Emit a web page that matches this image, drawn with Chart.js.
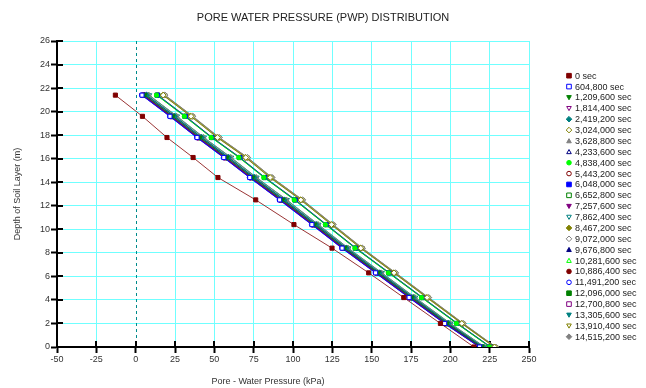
<!DOCTYPE html>
<html>
<head>
<meta charset="utf-8">
<script src="https://cdn.jsdelivr.net/npm/chart.js@4.4.0/dist/chart.umd.min.js"></script>
<style>
html, body { margin: 0; padding: 0; background: #fff; }
#wrap { width: 646px; height: 388px; }
</style>
</head>
<body>
<div id="wrap"><canvas id="pwpChart" width="646" height="388"></canvas></div>
<script>
// depth of each node (m) and the pore water pressure (kPa) per time step
var depth = [0, 2.0, 4.2, 6.3, 8.4, 10.4, 12.5, 14.4, 16.1, 17.8, 19.6, 21.4];

var timeLabels = ["0 sec", "604,800 sec", "1,209,600 sec", "1,814,400 sec", "2,419,200 sec",
  "3,024,000 sec", "3,628,800 sec", "4,233,600 sec", "4,838,400 sec", "5,443,200 sec",
  "6,048,000 sec", "6,652,800 sec", "7,257,600 sec", "7,862,400 sec", "8,467,200 sec",
  "9,072,000 sec", "9,676,800 sec", "10,281,600 sec", "10,886,400 sec", "11,491,200 sec",
  "12,096,000 sec", "12,700,800 sec", "13,305,600 sec", "13,910,400 sec", "14,515,200 sec"];

var pwp0  = [215.0, 193.7, 170.4, 148.1, 124.8, 100.6, 76.3, 52.3, 36.5, 19.9, 4.3, -12.9];
var pwp1  = [218.6, 196.4, 173.8, 152.5, 131.2, 112.0, 91.5, 72.5, 56.0, 39.0, 21.8, 4.0];
var pwp2  = [219.8, 197.8, 175.3, 154.0, 132.7, 113.6, 93.2, 74.2, 57.8, 40.7, 23.5, 5.7];
var pwp3  = [219.2, 197.1, 174.5, 153.3, 132.0, 112.8, 92.4, 73.3, 56.9, 39.8, 22.7, 4.9];
var pwp4  = [220.6, 198.7, 176.3, 155.0, 133.8, 114.7, 94.4, 75.3, 59.0, 41.8, 24.7, 6.9];
var pwp5  = [228.1, 207.3, 185.2, 164.2, 143.1, 124.5, 105.0, 85.5, 70.0, 52.0, 35.2, 17.5];
var pwp6  = [221.7, 199.9, 177.5, 156.3, 135.0, 116.0, 95.9, 76.7, 60.5, 43.2, 26.1, 8.4];
var pwp7  = [220.8, 198.9, 176.5, 155.2, 134.0, 114.9, 94.6, 75.5, 59.2, 42.0, 24.9, 7.1];
var pwp8  = [225.1, 203.9, 181.7, 160.6, 139.4, 120.6, 100.8, 81.5, 65.6, 48.0, 31.0, 13.3];
var pwp9  = [219.0, 196.9, 174.3, 153.1, 131.8, 112.6, 92.2, 73.1, 56.7, 39.6, 22.5, 4.7];
var pwp10 = [225.5, 204.4, 182.2, 161.1, 139.9, 121.1, 101.4, 82.0, 66.2, 48.5, 31.6, 13.9];
var pwp11 = [225.7, 204.6, 182.4, 161.3, 140.1, 121.3, 101.6, 82.2, 66.4, 48.7, 31.8, 14.1];
var pwp12 = [218.8, 196.6, 174.0, 152.7, 131.4, 112.2, 91.7, 72.7, 56.2, 39.2, 22.0, 4.2];
var pwp13 = [221.9, 200.1, 177.7, 156.5, 135.2, 116.2, 96.1, 76.9, 60.7, 43.4, 26.3, 8.6];
var pwp14 = [227.9, 207.1, 185.0, 164.0, 142.9, 124.3, 104.8, 85.3, 69.8, 51.8, 35.0, 17.3];
var pwp15 = [228.8, 208.1, 186.1, 165.1, 144.0, 125.4, 106.0, 86.5, 71.0, 53.0, 36.2, 18.5];
var pwp16 = [220.0, 198.0, 175.5, 154.2, 132.9, 113.8, 93.4, 74.4, 58.0, 40.9, 23.7, 5.9];
var pwp17 = [221.5, 199.7, 177.3, 156.1, 134.8, 115.8, 95.7, 76.5, 60.3, 43.0, 25.9, 8.2];
var pwp18 = [219.4, 197.3, 174.7, 153.5, 132.2, 113.0, 92.6, 73.5, 57.1, 40.0, 22.9, 5.1];
var pwp19 = [218.4, 196.2, 173.6, 152.3, 131.0, 111.8, 91.3, 72.3, 55.8, 38.8, 21.6, 3.8];
var pwp20 = [225.3, 204.1, 181.9, 160.8, 139.6, 120.8, 101.0, 81.7, 65.8, 48.2, 31.2, 13.5];
var pwp21 = [219.1, 197.0, 174.4, 153.2, 131.9, 112.7, 92.3, 73.2, 56.8, 39.7, 22.6, 4.8];
var pwp22 = [220.4, 198.5, 176.1, 154.8, 133.6, 114.5, 94.2, 75.1, 58.8, 41.6, 24.5, 6.7];
var pwp23 = [228.6, 207.9, 185.9, 164.9, 143.8, 125.2, 105.8, 86.3, 70.8, 52.8, 36.0, 18.3];
var pwp24 = [229.0, 208.3, 186.3, 165.3, 144.2, 125.6, 106.2, 86.7, 71.2, 53.2, 36.4, 18.7];

var pwpSeries = [pwp0, pwp1, pwp2, pwp3, pwp4, pwp5, pwp6, pwp7, pwp8, pwp9, pwp10, pwp11, pwp12,
  pwp13, pwp14, pwp15, pwp16, pwp17, pwp18, pwp19, pwp20, pwp21, pwp22, pwp23, pwp24];

var xTicks = { min: -50, max: 250, step: 25 };
var yTicks = { min: 0, max: 26, step: 2 };

// styling
var palette = ['#800000', '#0000ff', '#008000', '#800080', '#008080', '#808000', '#808080', '#000080', '#00ff00'];
var shapes = ['rect', 'tridown', 'diamond', 'triangle', 'circle'];
var FONT = 'Arial, "Liberation Sans", sans-serif';
Chart.defaults.font.family = FONT;

function makeDataset(i) {
  var color = palette[i % palette.length];
  var shape = shapes[Math.floor(i / 2) % shapes.length];
  var filled = i % 2 === 0;
  var style = { rect: 'rect', tridown: 'triangle', diamond: 'rectRot', triangle: 'triangle', circle: 'circle' }[shape];
  var r = shape === 'circle' ? 2.2 : 2.9;
  return {
    label: timeLabels[i],
    data: pwpSeries[i].map(function (v, k) { return { x: v, y: depth[k] }; }),
    showLine: true,
    borderColor: color,
    backgroundColor: filled ? color : '#ffffff',
    borderWidth: 0.8,
    pointStyle: style,
    pointRotation: shape === 'tridown' ? 180 : 0,
    pointRadius: r,
    pointHoverRadius: r,
    pointBorderColor: color,
    pointBackgroundColor: filled ? color : '#ffffff',
    pointBorderWidth: 1,
    markerShape: shape,
    markerFilled: filled
  };
}

function drawMarker(ctx, shape, filled, color, x, y, r) {
  ctx.beginPath();
  if (shape === 'rect') {
    ctx.rect(x - r, y - r, 2 * r, 2 * r);
  } else if (shape === 'tridown') {
    ctx.moveTo(x - r, y - r * 0.8); ctx.lineTo(x + r, y - r * 0.8); ctx.lineTo(x, y + r); ctx.closePath();
  } else if (shape === 'triangle') {
    ctx.moveTo(x - r, y + r * 0.8); ctx.lineTo(x + r, y + r * 0.8); ctx.lineTo(x, y - r); ctx.closePath();
  } else if (shape === 'diamond') {
    ctx.moveTo(x, y - r - 0.5); ctx.lineTo(x + r + 0.5, y); ctx.lineTo(x, y + r + 0.5); ctx.lineTo(x - r - 0.5, y); ctx.closePath();
  } else {
    ctx.arc(x, y, r, 0, Math.PI * 2);
  }
  ctx.fillStyle = filled ? color : '#ffffff';
  ctx.fill();
  ctx.lineWidth = 1;
  ctx.strokeStyle = color;
  ctx.stroke();
}

// legend on the right, one row per time step, and the x axis title
var sideLegend = {
  id: 'sideLegend',
  afterDraw: function (chart) {
    var ctx = chart.ctx;
    ctx.save();
    ctx.font = '9px ' + FONT;
    ctx.textBaseline = 'middle';
    chart.data.datasets.forEach(function (ds, i) {
      var y = 75.7 + i * 10.875;
      drawMarker(ctx, ds.markerShape, ds.markerFilled, ds.borderColor, 569, y, 2.3);
      ctx.fillStyle = '#222';
      ctx.fillText(ds.label, 575, y + 0.5);
    });
    ctx.fillStyle = '#333';
    ctx.textAlign = 'center';
    ctx.fillText('Pore - Water Pressure (kPa)', 268, 382);
    ctx.restore();
  }
};

// dashed line at zero pressure and the inner half of the axis ticks
var axisExtras = {
  id: 'axisExtras',
  beforeDatasetsDraw: function (chart) {
    var ctx = chart.ctx, xs = chart.scales.x, ys = chart.scales.y, a = chart.chartArea;
    ctx.save();
    var x0 = Math.round(xs.getPixelForValue(0)) + 0.5;
    ctx.strokeStyle = '#008b8b';
    ctx.lineWidth = 1;
    ctx.setLineDash([3, 3]);
    ctx.beginPath(); ctx.moveTo(x0, a.top); ctx.lineTo(x0, a.bottom); ctx.stroke();
    ctx.setLineDash([]);
    ctx.strokeStyle = '#000';
    ctx.lineWidth = 2;
    ctx.beginPath();
    xs.ticks.forEach(function (t) {
      var px = Math.round(xs.getPixelForValue(t.value));
      ctx.moveTo(px, a.bottom); ctx.lineTo(px, a.bottom - 6);
    });
    ys.ticks.forEach(function (t) {
      var py = Math.round(ys.getPixelForValue(t.value));
      ctx.moveTo(a.left, py); ctx.lineTo(a.left + 6, py);
    });
    ctx.stroke();
    ctx.restore();
  }
};

var datasets = [];
for (var i = 0; i < pwpSeries.length; i++) datasets.push(makeDataset(i));

var ctx = document.getElementById('pwpChart').getContext('2d');
var chart = new Chart(ctx, {
  type: 'scatter',
  data: { datasets: datasets },
  plugins: [axisExtras, sideLegend],
  options: {
    responsive: false,
    animation: false,
    layout: { padding: 0 },
    plugins: {
      legend: { display: false },
      tooltip: { enabled: false },
      title: {
        display: true,
        text: 'PORE WATER PRESSURE (PWP) DISTRIBUTION',
        color: '#222',
        font: { size: 11, weight: 'normal' },
        padding: { top: 11.4, bottom: 16.4 }
      }
    },
    scales: {
      x: {
        type: 'linear',
        min: xTicks.min,
        max: xTicks.max,
        ticks: { stepSize: xTicks.step, color: '#333', font: { size: 9 }, padding: 1, maxRotation: 0, autoSkip: false },
        grid: {
          color: function (c) { return c.tick && c.tick.value === 0 ? 'rgba(0,0,0,0)' : '#70ffff'; },
          lineWidth: 1, tickColor: '#000', tickLength: 6, tickWidth: 2
        },
        border: { color: '#000', width: 2 },
        afterFit: function (s) { s.height = 41; }
      },
      y: {
        type: 'linear',
        min: yTicks.min,
        max: yTicks.max,
        ticks: { stepSize: yTicks.step, color: '#333', font: { size: 9 }, padding: 1, autoSkip: false },
        grid: { color: '#70ffff', lineWidth: 1, tickColor: '#000', tickLength: 6, tickWidth: 2 },
        border: { color: '#000', width: 2 },
        title: { display: true, text: 'Depth of Soil Layer (m)', color: '#333', font: { size: 9 }, padding: { top: 12.6, bottom: 0 } },
        afterFit: function (s) { s.width = 57; }
      },
      // empty right-hand axis that keeps room for the legend
      legendSpace: {
        type: 'linear',
        position: 'right',
        display: true,
        ticks: { display: false },
        grid: { display: false, drawOnChartArea: false },
        border: { display: false },
        afterFit: function (s) { s.width = 117; }
      }
    }
  }
});
</script>
</body>
</html>
